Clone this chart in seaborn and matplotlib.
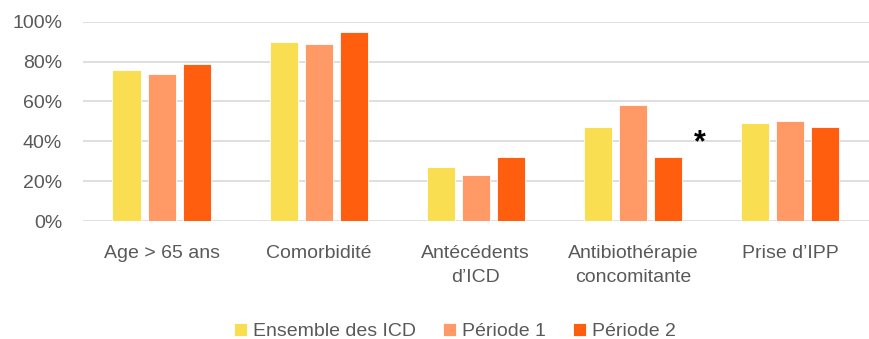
import matplotlib
matplotlib.use("Agg")
import matplotlib.pyplot as plt
import matplotlib.ticker as mticker
import seaborn as sns
import pandas as pd

categories = ["Age > 65 ans", "Comorbidité", "Antécédents\nd’ICD",
              "Antibiothérapie\nconcomitante", "Prise d’IPP"]
series_names = ["Ensemble des ICD", "Période 1", "Période 2"]
ensemble = [76, 90, 27, 47, 49]
periode1 = [74, 89, 23, 58, 50]
periode2 = [79, 95, 32, 32, 47]
y_ticks = [0, 20, 40, 60, 80, 100]
colors = ["#F9DE52", "#FF9A66", "#FF5E0E"]

rows = []
for name, vals in zip(series_names, [ensemble, periode1, periode2]):
    for c, v in zip(categories, vals):
        rows.append({"cat": c, "serie": name, "val": v})
df = pd.DataFrame(rows)

sns.set_theme(style="white")
plt.rcParams["font.family"] = ["Liberation Sans", "DejaVu Sans"]

fig = plt.figure(figsize=(8.7, 3.39), dpi=100)
ax = fig.add_axes([0.0954, 0.348, 0.903, 0.588])

sns.barplot(data=df, x="cat", y="val", hue="serie", order=categories,
            hue_order=series_names, palette=colors, width=0.67, gap=0.2,
            saturation=1, ax=ax, edgecolor="white", linewidth=0.6)

ax.set_ylim(0, 100)
ax.set_xlim(-0.5, len(categories) - 0.5)
ax.set_yticks(y_ticks)
ax.yaxis.set_major_formatter(mticker.FuncFormatter(lambda v, p: f"{v:.0f}%"))
ax.grid(axis="y", color="#D9D9D9", linewidth=1.2)
ax.set_axisbelow(True)
for s in ax.spines.values():
    s.set_visible(False)
ax.set_xlabel("")
ax.set_ylabel("")
ax.tick_params(axis="both", length=0, labelsize=14, colors="#595959")
ax.tick_params(axis="x", pad=17.5)
ax.tick_params(axis="y", pad=15)
for lab in ax.get_xticklabels():
    lab.set_linespacing(1.5)

# asterisk over Période 2 bar of "Antibiothérapie concomitante"
bars_p2 = ax.containers[2]
b = bars_p2[3]
ax.annotate("*", xy=(b.get_x() + b.get_width(), b.get_height()),
            xytext=(12.5, 10), textcoords="offset points",
            ha="center", va="center", fontsize=22, fontweight="bold",
            color="black")

handles, labels = ax.get_legend_handles_labels()
ax.get_legend().remove()
fig.legend(handles, labels, loc="center", bbox_to_anchor=(455 / 870, 0.022),
           ncol=3, frameon=False, fontsize=14, handlelength=0.67,
           handleheight=0.67, handletextpad=0.3, columnspacing=1.4,
           labelcolor="#595959")

fig.savefig("out.png", dpi=100)
